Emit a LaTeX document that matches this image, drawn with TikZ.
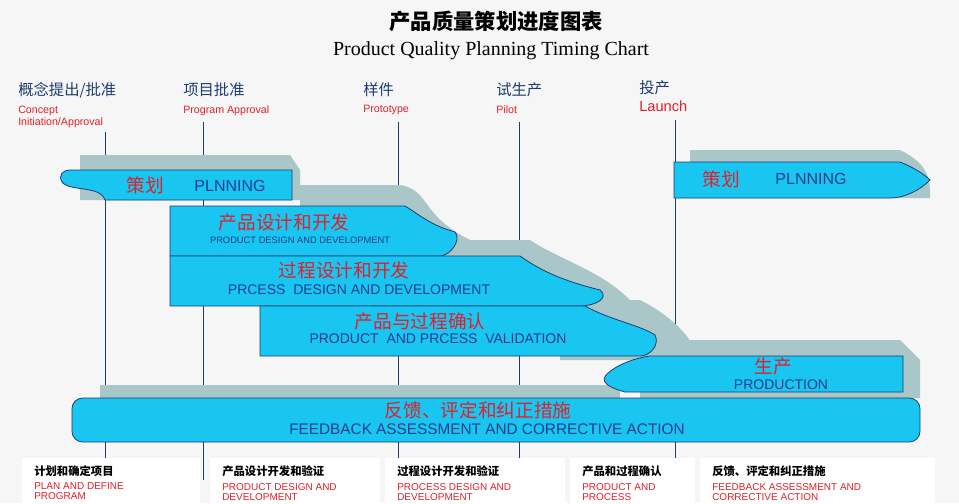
\documentclass[tikz,border=0pt]{standalone}
\usepackage{fontspec}
\setmainfont{Liberation Serif}
\setsansfont{Liberation Sans}
\newfontfamily\cjk{Noto Sans CJK SC}
\usetikzlibrary{positioning, calc}
\definecolor{barfill}{HTML}{19C6F2}
\definecolor{shadowc}{HTML}{A9C6C8}
\definecolor{redtxt}{HTML}{E0202A}
\definecolor{bluetxt}{HTML}{1E3D8C}
\definecolor{headtxt}{HTML}{1E3D6E}
\begin{document}
\begin{tikzpicture}[x=0.75pt,y=-0.75pt]
	\tikzstyle{bar}=[draw=headtxt,fill=barfill,line width=0.6pt]
	\tikzstyle{shade}=[fill=shadowc,draw=none]
	\tikzstyle{cn}=[text=redtxt,font=\cjk\fontsize{14}{14}\selectfont,inner sep=0pt]
	\tikzstyle{en}=[text=bluetxt,font=\sffamily\fontsize{10.5}{11}\selectfont,inner sep=0pt]
	\tikzstyle{stage}=[text=headtxt,font=\cjk\fontsize{11.5}{12}\selectfont,anchor=west,inner sep=0pt]
	\tikzstyle{stageen}=[text=redtxt,font=\sffamily\fontsize{8}{8.5}\selectfont,anchor=north west,align=left,inner sep=0pt]
	\tikzstyle{boxhead}=[text=black,font=\cjk\bfseries\fontsize{8.5}{9}\selectfont,anchor=west,inner sep=0pt]
	\tikzstyle{boxen}=[text=redtxt,font=\sffamily\fontsize{7.5}{7.5}\selectfont,anchor=north west,align=left,inner sep=0pt]
	\tikzstyle{milestone}=[draw=headtxt,line width=0.6pt]

	\fill[white!93!gray] (0,0) rectangle (959,503);
	\useasboundingbox (0,0) rectangle (959,503);

	%% Titel
	\node[font=\cjk\bfseries\fontsize{16}{16}\selectfont,inner sep=0pt] (title) at (496,21) {产品质量策划进度图表};
	\node[font=\fontsize{15}{15}\selectfont,inner sep=0pt] (subtitle) at (491,51) {Product Quality Planning Timing Chart};

	%% Meilensteine
	\node[stage] (s1) at (18,90) {概念提出/批准};
	\node[stageen] (s1e) at ($(s1.south west)+(0,8)$) {Concept\\Initiation/Approval};
	\node[stage] (s2) at (183,90) {项目批准};
	\node[stageen] (s2e) at ($(s2.south west)+(0,8)$) {Program Approval};
	\node[stage] (s3) at (363,90) {样件};
	\node[stageen] (s3e) at ($(s3.south west)+(0,8)$) {Prototype};
	\node[stage] (s4) at (496,90) {试生产};
	\node[stageen] (s4e) at ($(s4.south west)+(0,8)$) {Pilot};
	\node[stage] (s5) at (639,88) {投产};
	\node[stageen,font=\sffamily\fontsize{11}{11}\selectfont] (s5e) at ($(s5.south west)+(0,5)$) {Launch};

	%% Meilensteinlinien
	\foreach \x/\y in {105/132, 203/122, 398/122, 519/122, 675/120}
		\draw[milestone] (\x,\y) -- (\x,480);

	%% Schatten
	\fill[shade] (80,155) -- (290,155) -- (300,170) -- (300,200) -- (80,200) -- cycle;
	\fill[shade] (300,185) -- (400,185) .. controls (430,190) and (420,215) .. (470,240) .. controls (480,250) and (470,256) .. (460,256) -- (300,256) -- cycle;
	\fill[shade] (440,240) -- (530,240) .. controls (560,260) and (600,270) .. (630,300) -- (600,310) -- (440,310) -- cycle;
	\fill[shade] (560,300) -- (640,300) .. controls (660,310) and (690,330) .. (700,360) -- (560,360) -- cycle;
	\fill[shade] (690,150) -- (900,150) .. controls (930,165) and (930,180) .. (930,198) -- (690,198) -- cycle;
	\fill[shade] (640,340) -- (900,340) -- (920,360) -- (920,398) -- (640,398) -- cycle;
	\fill[shade] (100,385) -- (620,385) -- (620,400) -- (100,400) -- cycle;

	%% Balken
	\draw[bar] (70,170) -- (292,170) -- (292,200) -- (105,200)
		.. controls (100,185) and (70,192) .. (62,182) .. controls (58,175) and (63,170) .. (70,170) -- cycle;
	\draw[bar] (170,206) -- (405,206) .. controls (420,215) and (430,225) .. (455,232)
		.. controls (462,240) and (450,256) .. (440,256) -- (170,256) -- cycle;
	\draw[bar] (170,256) -- (520,256) .. controls (540,270) and (560,280) .. (600,290)
		.. controls (610,298) and (595,306) .. (580,306) -- (170,306) -- cycle;
	\draw[bar] (260,306) -- (585,306) .. controls (610,320) and (640,325) .. (655,335)
		.. controls (660,345) and (650,356) .. (640,356) -- (260,356) -- cycle;
	\draw[bar] (650,356) -- (903,356) -- (903,392) -- (625,392)
		.. controls (600,385) and (600,378) .. (612,370) .. controls (620,364) and (635,358) .. (650,356) -- cycle;
	\draw[bar] (674,162) -- (900,162) .. controls (915,168) and (925,175) .. (930,180)
		.. controls (920,190) and (905,198) .. (890,198) -- (674,198) -- cycle;
	\draw[bar,rounded corners=8pt] (72,398) rectangle (920,442);
	\draw[milestone] (105,442) -- (105,480) (203,442) -- (203,480) (398,442) -- (398,480) (519,442) -- (519,480) (675,442) -- (675,480);

	%% Texte
	\node[cn] (plan) at (145,185) {策划};
	\node[en,font=\sffamily\fontsize{12}{12}\selectfont] (planen) at (230,186) {PLNNING};
	\node[cn] (pdd) at (284,222) {产品设计和开发};
	\node[en,font=\sffamily\fontsize{7}{7}\selectfont] (pdden) at (300,240) {PRODUCT DESIGN AND DEVELOPMENT};
	\node[cn] (prd) at (344,270) {过程设计和开发};
	\node[en] (prden) at (359,290) {PRCESS\ \ DESIGN AND DEVELOPMENT};
	\node[cn] (val) at (420,321) {产品与过程确认};
	\node[en] (valen) at (438,339) {PRODUCT\ \ AND PRCESS\ \ VALIDATION};
	\node[cn] (prod) at (773,366) {生产};
	\node[en] (proden) at (781,385) {PRODUCTION};
	\node[cn] (fb) at (478,410) {反馈、评定和纠正措施};
	\node[en,font=\sffamily\fontsize{11.5}{12}\selectfont] (fben) at (487,429) {FEEDBACK ASSESSMENT AND CORRECTIVE ACTION};
	\node[cn] (plan2) at (721,179) {策划};
	\node[en,font=\sffamily\fontsize{12}{12}\selectfont] (plan2en) at (811,179) {PLNNING};

	%% Untere Kaesten
	\foreach \a/\b/\h/\e [count=\i] in {
		22/200/计划和确定项目/PLAN AND DEFINE\\PROGRAM,
		210/380/产品设计开发和验证/PRODUCT DESIGN AND\\DEVELOPMENT,
		385/565/过程设计开发和验证/PROCESS DESIGN AND\\DEVELOPMENT,
		570/695/产品和过程确认/PRODUCT AND\\PROCESS,
		700/935/{反馈、评定和纠正措施}/FEEDBACK ASSESSMENT AND\\CORRECTIVE ACTION} {
		\fill[white] (\a,458) rectangle (\b,503);
		\node[boxhead] (bh\i) at (\a+12,471) {\h};
		\node[boxen] (be\i) at ($(bh\i.south west)+(0,6)$) {\e};
	}
\end{tikzpicture}
\end{document}
